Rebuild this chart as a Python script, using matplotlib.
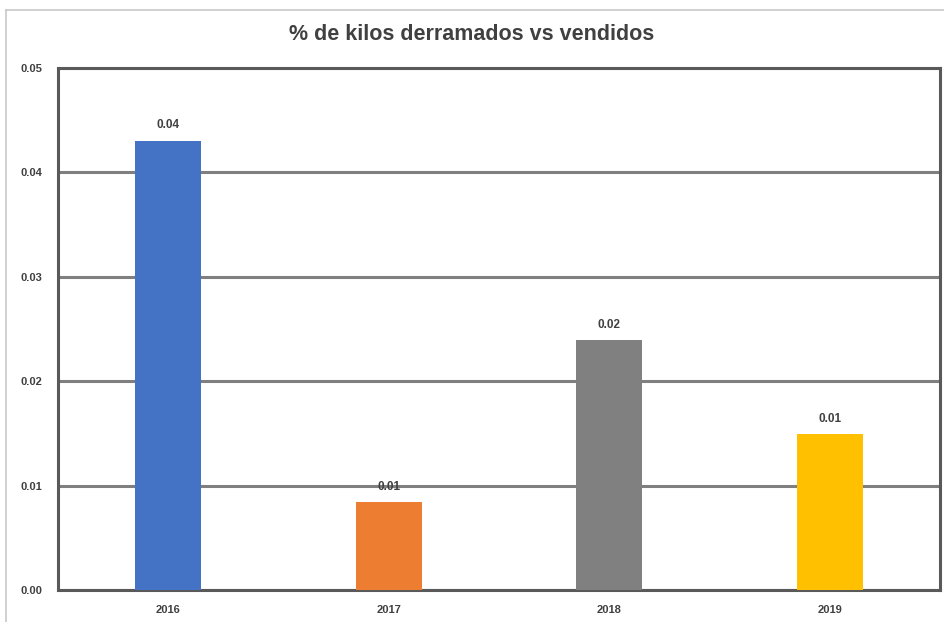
import matplotlib.pyplot as plt
from matplotlib.lines import Line2D

plt.rcParams["font.family"] = ["Liberation Sans Narrow", "Liberation Sans", "DejaVu Sans"]

years = ["2016", "2017", "2018", "2019"]
pct_derramado = [0.0430, 0.0084, 0.0239, 0.0149]
colores = ["#4472C4", "#ED7D31", "#808080", "#FFC000"]
y_ticks = [0.00, 0.01, 0.02, 0.03, 0.04, 0.05]

fig = plt.figure(figsize=(9.44, 6.22), dpi=100)
ax = fig.add_axes([58 / 944, 1 - 590 / 622, 882 / 944, 522 / 622])

x = range(len(years))
bars = ax.bar(x, pct_derramado, width=0.30, color=colores, zorder=3)
for b, v in zip(bars, pct_derramado):
    ax.annotate(f"{v:.2f}", (b.get_x() + b.get_width() / 2, v),
                xytext=(0, 7), textcoords="offset points",
                ha="center", va="bottom", fontsize=8.5, fontweight="bold",
                color="#404040", zorder=4)

ax.set_xlim(-0.5, len(years) - 0.5)
ax.set_ylim(0, 0.05)
ax.set_yticks(y_ticks)
ax.set_yticklabels([f"{t:.2f}" for t in y_ticks])
ax.set_xticks(list(x))
ax.set_xticklabels(years)
ax.tick_params(length=0, labelsize=8, labelcolor="#404040")
ax.tick_params(axis="y", pad=11)
ax.tick_params(axis="x", pad=11)
for lbl in ax.get_xticklabels() + ax.get_yticklabels():
    lbl.set_fontweight("bold")

ax.grid(axis="y", color="#7f7f7f", lw=2.2, zorder=1)
for s in ax.spines.values():
    s.set_color("#595959")
    s.set_linewidth(2.2)

fig.text(0.5, 1 - 35 / 622, "% de kilos derramados vs vendidos",
         ha="center", va="center", fontsize=15.5, fontweight="bold", color="#404040")

# marco exterior del grafico
fig.add_artist(Line2D([6 / 944, 6 / 944], [0, 1 - 10 / 622], transform=fig.transFigure,
                      color="#c8c8c8", lw=1.2))
fig.add_artist(Line2D([6 / 944, 1], [1 - 10 / 622, 1 - 10 / 622], transform=fig.transFigure,
                      color="#c8c8c8", lw=1.2))

fig.savefig("out.png", dpi=100)
